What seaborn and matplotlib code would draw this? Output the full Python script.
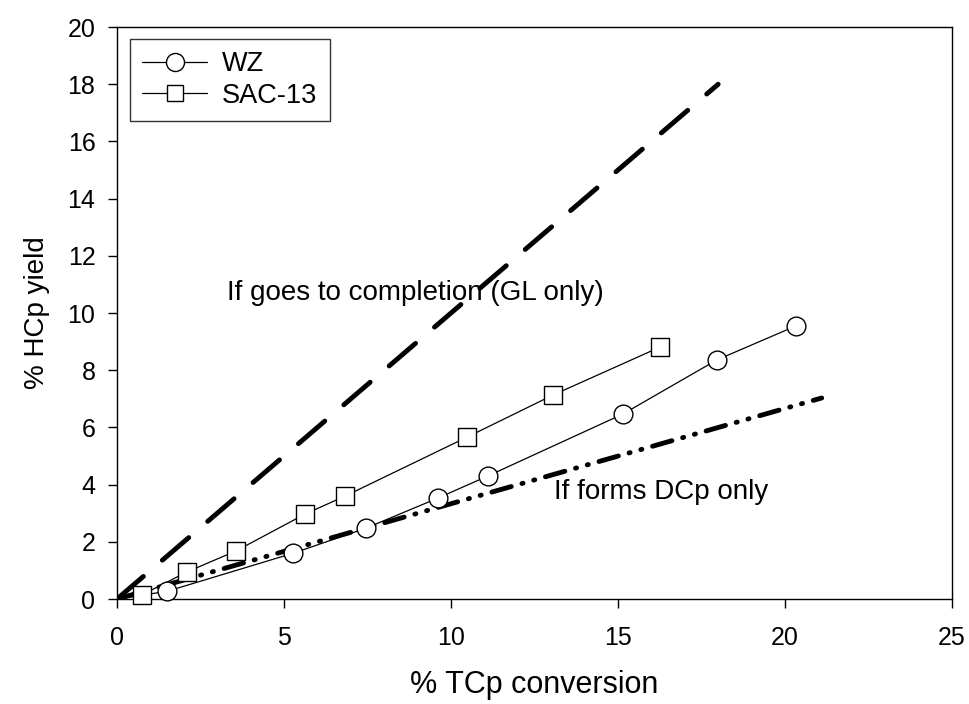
import matplotlib
matplotlib.use("Agg")
import matplotlib.pyplot as plt
from matplotlib.lines import Line2D
import seaborn as sns

# ---- data ----
wz_x = [0, 1.5, 5.27, 7.46, 9.61, 11.1, 15.15, 17.96, 20.33]
wz_y = [0, 0.27, 1.6, 2.48, 3.53, 4.3, 6.47, 8.36, 9.55]
sac_x = [0, 0.74, 2.1, 3.56, 5.63, 6.83, 10.48, 13.05, 16.26]
sac_y = [0, 0.14, 0.95, 1.68, 2.97, 3.6, 5.66, 7.13, 8.81]
gl_x = [0, 18]
gl_y = [0, 18]
dcp_x = [0, 21.1]
dcp_y = [0, 7.03]
x_ticks = [0, 5, 10, 15, 20, 25]
y_ticks = [0, 2, 4, 6, 8, 10, 12, 14, 16, 18, 20]

sns.set_theme(style="white")
plt.rcParams['font.family'] = ['Liberation Sans', 'DejaVu Sans']
plt.rcParams['lines.scale_dashes'] = False
plt.rcParams['text.color'] = 'black'
plt.rcParams['axes.labelcolor'] = 'black'

fig = plt.figure(figsize=(9.7, 7.04), dpi=100)
ax = fig.add_axes([0.1206, 0.1491, 0.8608, 0.8125])

# reference lines
sns.lineplot(x=gl_x, y=gl_y, ax=ax, color='black', lw=3.5, estimator=None,
             sort=False, legend=False)
ax.lines[-1].set_linestyle((0, (25, 18)))
ax.lines[-1].set_dash_capstyle('round')
sns.lineplot(x=dcp_x, y=dcp_y, ax=ax, color='black', lw=3.5, estimator=None,
             sort=False, legend=False)
ax.lines[-1].set_linestyle((0, (14.5, 8.0, 0.8, 8.0, 0.8, 8.0)))
ax.lines[-1].set_dash_capstyle('round')

# data lines
for xs, ys, mk in [(wz_x, wz_y, 'o'), (sac_x, sac_y, 's')]:
    sns.lineplot(x=xs, y=ys, ax=ax, color='black', lw=0.9, estimator=None,
                 sort=False, legend=False)
    sns.scatterplot(x=xs[1:], y=ys[1:], ax=ax, marker=mk,
                    s=13.5**2 if mk == 'o' else 12.5**2,
                    facecolor='white', edgecolor='black', linewidth=1.0,
                    legend=False, zorder=5, clip_on=False)

ax.set_xlim(0, 25)
ax.set_ylim(0, 20)
ax.set_xticks(x_ticks)
ax.set_yticks(y_ticks)
ax.tick_params(direction='out', length=6.5, width=1, colors='black',
               labelsize=18, bottom=True, left=True, top=False, right=False)
ax.tick_params(axis='y', pad=9)
ax.tick_params(axis='x', pad=13)
for sp in ax.spines.values():
    sp.set_color('black')
    sp.set_linewidth(1.0)
ax.set_xlabel('% TCp conversion', fontsize=22, labelpad=14)
ax.set_ylabel('% HCp yield', fontsize=20, labelpad=13)

ax.text(3.3, 10.7, 'If goes to completion (GL only)', fontsize=20, va='center', ha='left')
ax.text(13.07, 3.75, 'If forms DCp only', fontsize=20, va='center', ha='left')

handles = [
    Line2D([0], [0], color='black', lw=0.9, marker='o', markersize=13,
           markerfacecolor='white', markeredgecolor='black'),
    Line2D([0], [0], color='black', lw=0.9, marker='s', markersize=12,
           markerfacecolor='white', markeredgecolor='black'),
]
leg = ax.legend(handles, ['WZ', 'SAC-13'], loc='upper left',
                bbox_to_anchor=(0.0156, 0.979), fontsize=19.5, frameon=True,
                fancybox=False, edgecolor='black', handlelength=2.4,
                borderpad=0.45, labelspacing=0.2, handletextpad=0.55, borderaxespad=0)
leg.get_frame().set_linewidth(1.0)

fig.savefig('out.png', dpi=100, facecolor='white')
